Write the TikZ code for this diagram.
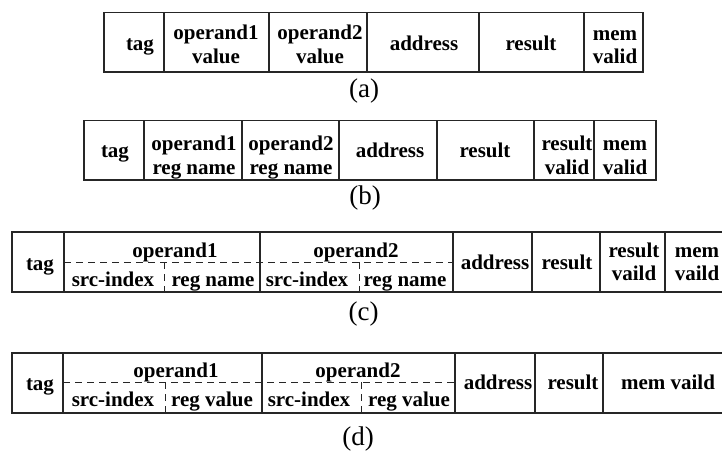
\documentclass[tikz,border=0pt]{standalone}
\usepackage{fontspec}
\setmainfont{Liberation Serif}
\begin{document}
\begin{tikzpicture}[x=1pt,y=-1pt,
  frame/.style={draw=black!85,line width=1.1pt},
  sep/.style={draw=black!85,line width=1.1pt},
  dsep/.style={draw=black!85,line width=0.9pt,dash pattern=on 7pt off 5pt},
  cell/.style={inner sep=0pt,anchor=base,font=\fontsize{21}{23.5}\selectfont\bfseries},
  caption/.style={inner sep=0pt,anchor=base,font=\fontsize{27}{29}\selectfont}]
\useasboundingbox (0,0) rectangle (722,451);

% ---- (a) ----
\draw[frame] (104,12.5) rectangle (643,72);
\foreach \x in {164,269,367,479,584} \draw[sep] (\x,12.5) -- (\x,72);
\node[cell] (a1) at (140,50) {tag};
\node[cell] (a2) at (216,39) {operand1};
\node[cell] (a2b) at (216,63) {value};
\node[cell] (a3) at (320,39) {operand2};
\node[cell] (a3b) at (320,63) {value};
\node[cell] (a4) at (424,50) {address};
\node[cell] (a5) at (531,50) {result};
\node[cell] (a6) at (615,40) {mem};
\node[cell] (a6b) at (615,63.5) {valid};
\node[caption] (la) at (364,97.5) {(a)};

% ---- (b) ----
\draw[frame] (84,120.5) rectangle (656,180);
\foreach \x in {144,242,339,437,534,594} \draw[sep] (\x,120.5) -- (\x,180);
\node[cell] (b1) at (115,157) {tag};
\node[cell] (b2) at (194,150.5) {operand1};
\node[cell] (b2b) at (194,174) {reg name};
\node[cell] (b3) at (291,150.5) {operand2};
\node[cell] (b3b) at (291,174) {reg name};
\node[cell] (b4) at (390,157) {address};
\node[cell] (b5) at (485,157) {result};
\node[cell] (b6) at (567,150.5) {result};
\node[cell] (b6b) at (567,174) {valid};
\node[cell] (b7) at (625,150.5) {mem};
\node[cell] (b7b) at (625,174) {valid};
\node[caption] (lb) at (365,204) {(b)};

% ---- (c) ----
\draw[frame] (730,232) -- (12,232) -- (12,292) -- (730,292);
\foreach \x in {64,260,453,532,600,665} \draw[sep] (\x,232) -- (\x,292);
\draw[dsep] (64,262) -- (453,262);
\draw[dsep] (164,262) -- (164,292);
\draw[dsep] (359,262) -- (359,292);
\node[cell] (c1) at (40,270) {tag};
\node[cell] (c2) at (175,257) {operand1};
\node[cell] (c3) at (356,257) {operand2};
\node[cell] (c4) at (113,286) {src-index};
\node[cell] (c5) at (213,286) {reg name};
\node[cell] (c6) at (307,286) {src-index};
\node[cell] (c7) at (405,286) {reg name};
\node[cell] (c8) at (495,269) {address};
\node[cell] (c9) at (567,269) {result};
\node[cell] (c10) at (634,257) {result};
\node[cell] (c10b) at (634,280.5) {vaild};
\node[cell] (c11) at (697,257) {mem};
\node[cell] (c11b) at (697,280.5) {vaild};
\node[caption] (lc) at (363.5,320.5) {(c)};

% ---- (d) ----
\draw[frame] (730,353) -- (12,353) -- (12,413) -- (730,413);
\foreach \x in {63,262,455,535,603} \draw[sep] (\x,353) -- (\x,413);
\draw[dsep] (63,382) -- (455,382);
\draw[dsep] (165,382) -- (165,413);
\draw[dsep] (361,382) -- (361,413);
\node[cell] (d1) at (40,390) {tag};
\node[cell] (d2) at (176,377) {operand1};
\node[cell] (d3) at (358,377) {operand2};
\node[cell] (d4) at (113,406) {src-index};
\node[cell] (d5) at (212,406) {reg value};
\node[cell] (d6) at (309,406) {src-index};
\node[cell] (d7) at (409,406) {reg value};
\node[cell] (d8) at (498,389) {address};
\node[cell] (d9) at (573,389) {result};
\node[cell] (d10) at (668,389) {mem vaild};
\node[caption] (ld) at (358,445) {(d)};
\end{tikzpicture}
\end{document}
